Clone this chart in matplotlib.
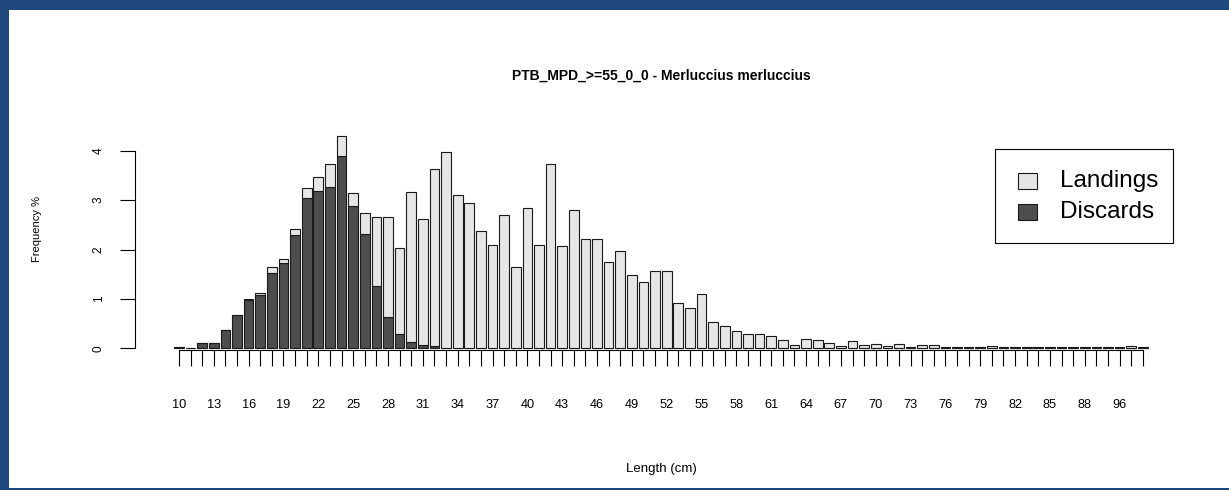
import numpy as np
import matplotlib
matplotlib.use('Agg')
import matplotlib.pyplot as plt
from matplotlib.patches import Rectangle

plt.rcParams['font.family'] = ['Liberation Sans', 'DejaVu Sans']

# data
lengths = list(range(10, 89)) + [90, 92, 96, 97, 99]

discards = [0.03, 0.01, 0.10, 0.10, 0.38, 0.67, 0.98, 1.07, 1.53, 1.72,
            2.29, 3.05, 3.18, 3.26, 3.89, 2.89, 2.31, 1.27, 0.64, 0.30,
            0.13, 0.07, 0.04, 0.01] + [0.0] * 60

landings = [0.0, 0.0, 0.0, 0.0, 0.0, 0.0, 0.02, 0.04, 0.11, 0.08,
            0.12, 0.19, 0.29, 0.48, 0.40, 0.25, 0.43, 1.39, 2.02, 1.74,
            3.03, 2.54, 3.59, 3.96,
            3.10, 2.95, 2.37, 2.10, 2.70, 1.64, 2.85, 2.10, 3.74, 2.08,
            2.79, 2.22, 2.22, 1.74, 1.98, 1.48, 1.35, 1.56, 1.56, 0.91,
            0.82, 1.09, 0.54, 0.46, 0.35, 0.28, 0.28, 0.24, 0.17, 0.07,
            0.19, 0.17, 0.11, 0.04, 0.14, 0.07, 0.09, 0.04, 0.09, 0.02,
            0.07, 0.07, 0.02,
            0.02, 0.02, 0.02, 0.04,
            0.02, 0.02, 0.02, 0.02, 0.02, 0.02, 0.02, 0.02, 0.02, 0.02, 0.02,
            0.04, 0.02]

col_land = '#E6E6E6'
col_disc = '#4D4D4D'
blue = '#1F497D'

W, H = 1229, 501
fig = plt.figure(figsize=(W / 100, H / 100), dpi=100)
fig.patch.set_facecolor('white')


def fx(px):
    return px / W


def fy(py):
    return 1 - py / H


# blue frame
fig.add_artist(Rectangle((0, fy(10)), 1, 10 / H, transform=fig.transFigure, color=blue, lw=0))
fig.add_artist(Rectangle((0, fy(490)), fx(9), (490 - 10) / H, transform=fig.transFigure, color=blue, lw=0))
fig.add_artist(Rectangle((0, fy(490)), 1, 2 / H, transform=fig.transFigure, color=blue, lw=0))

# plot region like R barplot (width 1, space 0.2)
n = len(lengths)
x = 0.7 + 1.2 * np.arange(n)
tot = np.array(discards) + np.array(landings)
ymax = tot.max()
xl = (0.2 - 0.04 * (x[-1] + 0.5 - 0.2), x[-1] + 0.5 + 0.04 * (x[-1] + 0.5 - 0.2))
yl = (-0.04 * ymax, 1.04 * ymax)

L, R, T, B = 135.2, 1186.6, 127.9, 356.8
ax = fig.add_axes([fx(L), fy(B), fx(R) - fx(L), (B - T) / H])
ax.set_xlim(*xl)
ax.set_ylim(*yl)
ax.patch.set_alpha(0)

ax.bar(x, discards, width=1, color=col_disc, edgecolor='#1a1a1a', linewidth=0.8)
ax.bar(x, landings, width=1, bottom=discards, color=col_land, edgecolor='#1a1a1a', linewidth=0.8)

for s in ['top', 'right']:
    ax.spines[s].set_visible(False)
ax.spines['left'].set_bounds(0, 4)
ax.spines['left'].set_linewidth(0.8)
ax.spines['bottom'].set_position(('data', -0.035))
ax.spines['bottom'].set_bounds(x[0], x[-1])
ax.spines['bottom'].set_linewidth(0.8)

ax.set_yticks([0, 1, 2, 3, 4])
ax.set_yticklabels(['0', '1', '2', '3', '4'], rotation=90, va='center', fontsize=8.5)
ax.tick_params(axis='y', length=10.8, width=0.8, pad=11)

ax.set_xticks(x)
ax.set_xticklabels([str(v) if i % 3 == 0 else '' for i, v in enumerate(lengths)], fontsize=9.2)
ax.tick_params(axis='x', length=11.5, width=0.8, pad=24)
for t in ax.xaxis.get_major_ticks():
    t.tick1line.set_clip_on(False)

fig.text(fx((L + R) / 2), fy(76), 'PTB_MPD_>=55_0_0 - Merluccius merluccius',
         ha='center', va='center', fontsize=10, fontweight='bold')
fig.text(fx((L + R) / 2), fy(469), 'Length (cm)', ha='center', va='center', fontsize=9.5)
fig.text(fx(37), fy(229), 'Frequency %', ha='center', va='center', rotation=90, fontsize=8)

# legend box
fig.add_artist(Rectangle((fx(995), fy(243)), fx(1173) - fx(995), (243 - 149) / H,
                         transform=fig.transFigure, facecolor='white', edgecolor='black', lw=0.8))
for yy, c, lab in [(181, col_land, 'Landings'), (212, col_disc, 'Discards')]:
    fig.add_artist(Rectangle((fx(1018), fy(yy + 8)), fx(19), 16 / H,
                             transform=fig.transFigure, facecolor=c, edgecolor='#1a1a1a', lw=0.8))
    fig.text(fx(1060), fy(yy), lab, ha='left', va='center', fontsize=17.5)

fig.savefig('out.png', dpi=100)
